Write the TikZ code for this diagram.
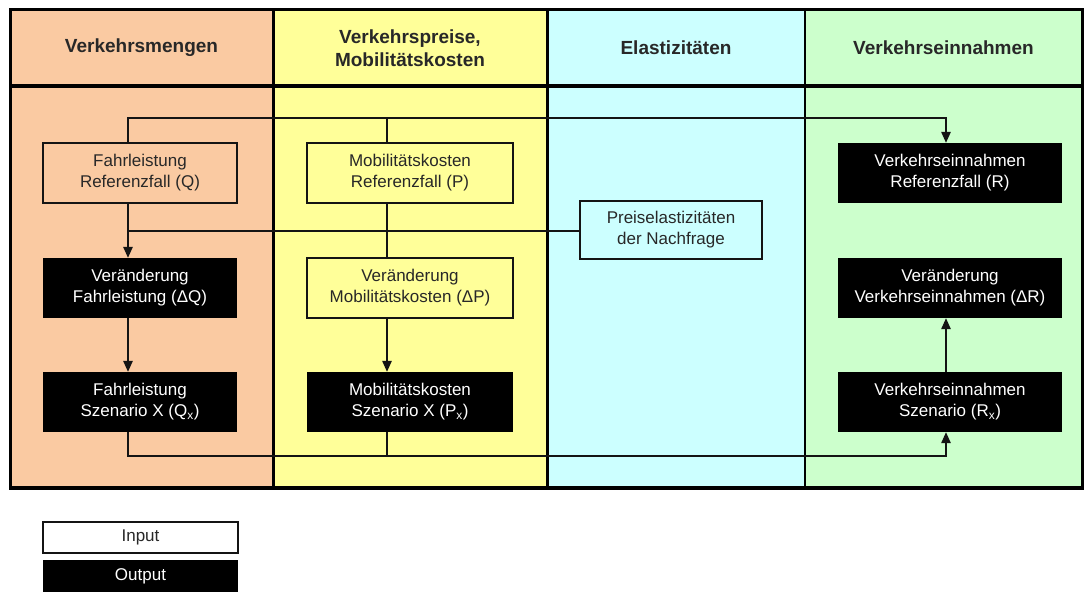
\documentclass[tikz,border=0pt]{standalone}
\usepackage{fontspec}
\setmainfont{Liberation Sans}
\usetikzlibrary{positioning,arrows.meta,calc}
\definecolor{vmOrange}{RGB}{250,202,162}
\definecolor{vmYellow}{RGB}{255,255,153}
\definecolor{vmCyan}{RGB}{204,255,255}
\definecolor{vmGreen}{RGB}{204,255,204}
\definecolor{vmLine}{RGB}{20,20,20}
\definecolor{vmText}{RGB}{40,40,40}
\tikzset{
    base/.style={font=\fontsize{17}{21}\selectfont, align=center, inner sep=0pt},
    inbox/.style={base, rectangle, draw=vmLine, text=vmText, line width=2.2pt, minimum height=60pt},
    outbox/.style={base, rectangle, fill=black, text=white, minimum height=60pt},
    header/.style={font=\bfseries\fontsize{19}{23}\selectfont, align=center, text=vmText},
    flow/.style={-{Triangle[length=11pt,width=9.5pt]}, line width=1.3pt, color=vmLine},
    link/.style={line width=1.3pt, color=vmLine}
}
\begin{document}
\begin{tikzpicture}[x=1pt, y=-1pt]
  \useasboundingbox (0,0) rectangle (1084,592);
  % columns and frame
  \fill[vmOrange] (10,9) rectangle (273,488);
  \fill[vmYellow] (273,9) rectangle (547,488);
  \fill[vmCyan] (547,9) rectangle (805,488);
  \fill[vmGreen] (805,9) rectangle (1082,488);
  \draw[line width=3pt] (273,9) -- (273,488);
  \draw[line width=3pt] (547,9) -- (547,488);
  \draw[line width=1.6pt] (805,9) -- (805,488);
  \draw[line width=4pt] (10,86) -- (1082,86);
  \draw[line width=3pt] (10,9) rectangle (1082,488);
  \draw[line width=4pt] (10,488) -- (1082,488);

  % headers
  \node[header] (hMengen) at (141.5,48) {Verkehrsmengen};
  \node[header] (hPreise) at (410,48) {Verkehrspreise,\\Mobilitätskosten};
  \node[header] (hElast) at (676,48) {Elastizitäten};
  \node[header] (hEinn) at (943.5,48) {Verkehrseinnahmen};

  % boxes
  \node[inbox, minimum width=194pt] (Qref) at (140,173) {Fahrleistung\\Referenzfall (Q)};
  \node[outbox, minimum width=194pt] (dQ) at (140,288) {Veränderung\\Fahrleistung (ΔQ)};
  \node[outbox, minimum width=194pt] (Qx) at (140,402) {Fahrleistung\\Szenario X (Q\textsubscript{x})};
  \node[inbox, minimum width=206pt] (Pref) at (410,173) {Mobilitätskosten\\Referenzfall (P)};
  \node[inbox, minimum width=206pt] (dP) at (410,288) {Veränderung\\Mobilitätskosten (ΔP)};
  \node[outbox, minimum width=206pt] (Px) at (410,402) {Mobilitätskosten\\Szenario X (P\textsubscript{x})};
  \node[inbox, minimum width=182pt, minimum height=58pt] (elast) at (671,230) {Preiselastizitäten\\der Nachfrage};
  \node[outbox, minimum width=224pt] (Rref) at (950,173) {Verkehrseinnahmen\\Referenzfall (R)};
  \node[outbox, minimum width=224pt] (dR) at (950,288) {Veränderung\\Verkehrseinnahmen (ΔR)};
  \node[outbox, minimum width=224pt] (Rx) at (950,402) {Verkehrseinnahmen\\Szenario (R\textsubscript{x})};

  % junctions
  \coordinate (topQ) at (128,118);
  \coordinate (topP) at (387,118);
  \coordinate (topR) at (946,118);
  \coordinate (midQ) at (128,231);
  \coordinate (midP) at (387,231);
  \coordinate (botQ) at (128,456);
  \coordinate (botP) at (387,456);
  \coordinate (botR) at (946,456);

  % connectors
  \draw[flow] (Qref.north -| topQ) -- (topQ) -- (topR) -- (Rref.north -| topR);
  \draw[link] (Pref.north -| topP) -- (topP);
  \draw[link] (midQ) -- (elast.west |- midQ);
  \draw[flow] (Qref.south -| midQ) -- (dQ.north -| midQ);
  \draw[link] (Pref.south -| midP) -- (dP.north -| midP);
  \draw[flow] (dQ.south -| midQ) -- (Qx.north -| midQ);
  \draw[flow] (dP.south -| midP) -- (Px.north -| midP);
  \draw[flow] (Qx.south -| botQ) -- (botQ) -- (botR) -- (Rx.south -| botR);
  \draw[link] (Px.south -| botP) -- (botP);
  \draw[flow] (Rx.north -| botR) -- (dR.south -| botR);

  % legend
  \node[inbox, fill=white, minimum width=195pt, minimum height=31pt] (legIn) at (140.5,537.5) {Input};
  \node[outbox, minimum width=195pt, minimum height=32pt] (legOut) at (140.5,576) {Output};
\end{tikzpicture}
\end{document}
